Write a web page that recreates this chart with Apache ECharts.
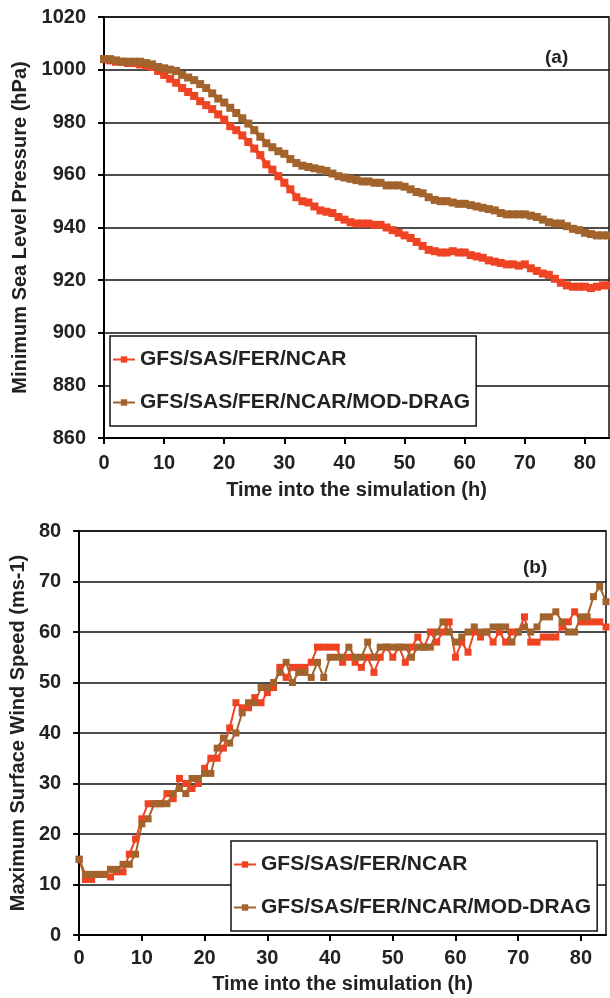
<!DOCTYPE html>
<html>
<head>
<meta charset="utf-8">
<style>
  html, body { margin: 0; padding: 0; background: #fff; }
  #main { width: 610px; height: 998px; }
</style>
<script src="https://cdn.jsdelivr.net/npm/echarts@6/dist/echarts.min.js"></script>
</head>
<body>
<div id="main"></div>
<script>
// hours into the simulation (one value per hour)
var hours = [];
for (var k = 0; k <= 84; k++) { hours.push(k); }

var seriesNames = ['GFS/SAS/FER/NCAR', 'GFS/SAS/FER/NCAR/MOD-DRAG'];

// (a) minimum sea level pressure, hPa
var mslpCtl = [1004, 1003.5, 1003, 1003, 1002.5, 1002.5, 1002, 1001.5, 1001, 999.5,
  998, 996.5, 995, 993, 991.5, 990, 988, 986.5, 985, 983,
  981, 978.5, 977, 975, 972.5, 970, 967.5, 964, 962, 959.5,
  957, 954.5, 951.5, 950, 949.5, 948, 946.5, 946, 945.5, 944,
  943, 942, 941.5, 941.5, 941.5, 941, 941, 940, 939, 938,
  937, 936, 934.5, 933, 931.5, 931, 930.5, 930.5, 931, 930.5,
  930.5, 929.5, 929, 928.5, 927.5, 927, 926.5, 926, 926, 925.5,
  926, 924.5, 923.5, 922.5, 922, 920.5, 919, 918, 917.5, 917.5,
  917.5, 917, 917.5, 918, 918];
var mslpDrag = [1004, 1004, 1003.5, 1003, 1003, 1003, 1003, 1002.5, 1002, 1001,
  1000.5, 1000, 999.5, 998, 997, 996, 994.5, 993, 991, 989,
  987.5, 985.5, 983.5, 981.5, 979.5, 977, 974.5, 972, 970.5, 969,
  968, 966, 964.5, 963.5, 963, 962.5, 962, 961.5, 960.5, 959.5,
  959, 958.5, 958, 957.5, 957.5, 957, 957, 956, 956, 956,
  955.5, 954.5, 953.5, 953, 951.5, 950.5, 950, 950, 949.5, 949,
  949, 948.5, 948, 947.5, 947, 946.5, 945.5, 945, 945, 945,
  945, 944.5, 944, 943, 942, 941.5, 941.5, 940.5, 939.5, 939,
  938, 937.5, 937, 937, 937];

// (b) maximum surface wind speed, m/s
var windCtl = [15, 11, 11, 12, 12, 11.5, 12.5, 12.5, 16, 19,
  23, 26, 26, 26, 28, 27, 31, 30, 29, 30,
  33, 35, 35, 37, 41, 46, 45, 45, 47, 46,
  48, 49, 53, 51, 53, 53, 53, 54, 57, 57,
  57, 57, 54, 55, 54, 53, 55, 52, 55, 57,
  55, 57, 54, 57, 59, 57, 60, 58, 60, 62,
  55, 58, 56, 60, 59, 60, 58, 60, 58, 60,
  60, 63, 58, 58, 59, 59, 59, 61, 62, 64,
  62, 62, 62, 62, 61];
var windDrag = [15, 12, 12, 12, 12, 13, 13, 14, 14, 16,
  22, 23, 26, 26, 26, 28, 29, 28, 31, 31,
  32, 32, 37, 39, 38, 40, 44, 46, 46, 49,
  49, 50, 52, 54, 50, 52, 52, 51, 54, 51,
  55, 55, 55, 57, 55, 55, 58, 55, 57, 57,
  57, 57, 57, 55, 57, 57, 57, 60, 62, 60,
  58, 59, 60, 61, 60, 60, 61, 61, 61, 58,
  60, 61, 60, 61, 63, 63, 64, 62, 60, 60,
  63, 63, 67, 69, 66];

var colors = ['#ee4423', '#a3632c'];
var txt = '#222';
var font = 'Liberation Sans, Arial, sans-serif';

function pairs(ys) {
  var out = [];
  for (var i = 0; i < ys.length; i++) { out.push([hours[i], ys[i]]); }
  return out;
}

// plain numbers, no thousands separator
function plain(v) { return String(v); }

// common axis look
function xAx(gridIndex, margin, nameGap) {
  return {
    type: 'value', gridIndex: gridIndex, min: 0, max: 84, interval: 10,
    name: 'Time into the simulation (h)', nameLocation: 'middle', nameGap: nameGap,
    nameTextStyle: { color: txt, fontSize: 20, fontWeight: 'bold', fontFamily: font },
    axisLine: { show: true, onZero: false, lineStyle: { color: '#000', width: 2 } },
    axisTick: { show: true, length: 6, lineStyle: { color: '#000', width: 2 } },
    axisLabel: { color: txt, fontSize: 20, fontWeight: 'bold', fontFamily: font, margin: margin, showMaxLabel: false, formatter: plain },
    splitLine: { show: false }
  };
}
function yAx(gridIndex, min, max, interval, name, nameGap) {
  return {
    type: 'value', gridIndex: gridIndex, min: min, max: max, interval: interval,
    name: name, nameLocation: 'middle', nameGap: nameGap,
    nameTextStyle: { color: txt, fontSize: 20, fontWeight: 'bold', fontFamily: font },
    axisLine: { show: true, lineStyle: { color: '#000', width: 2 } },
    axisTick: { show: true, length: 6, lineStyle: { color: '#000', width: 2 } },
    axisLabel: { color: txt, fontSize: 20, fontWeight: 'bold', fontFamily: font, margin: 18, formatter: plain },
    splitLine: { show: true, lineStyle: { color: '#111', width: 1.5 } }
  };
}
function lineSeries(idx, xi, ys, lw, size) {
  return {
    name: seriesNames[idx], type: 'line', xAxisIndex: xi, yAxisIndex: xi,
    data: pairs(ys), symbol: 'rect', symbolSize: size, showSymbol: true,
    color: colors[idx],
    lineStyle: { color: colors[idx], width: lw },
    itemStyle: { color: colors[idx] },
    animation: false
  };
}
function legendBox(left, top) {
  return {
    orient: 'vertical', left: left, top: top,
    data: seriesNames,
    itemWidth: 22, itemHeight: 8, itemGap: 22,
    padding: [13, 6, 13, 2],
    borderColor: '#111', borderWidth: 1.5, backgroundColor: '#fff',
    textStyle: { color: txt, fontSize: 21, fontWeight: 'bold', fontFamily: font }
  };
}

var chart = echarts.init(document.getElementById('main'));
chart.setOption({
  backgroundColor: '#fff',
  grid: [
    { left: 104, top: 17, width: 505, height: 421, show: true, borderColor: '#111', borderWidth: 1.5, backgroundColor: 'transparent' },
    { left: 76, top: 531, width: 530, height: 404, show: true, borderColor: '#111', borderWidth: 1.5, backgroundColor: 'transparent' }
  ],
  xAxis: [xAx(0, 15, 42), xAx(1, 13, 39)],
  yAxis: [
    yAx(0, 860, 1020, 20, 'Minimum Sea Level Pressure (hPa)', 63),
    yAx(1, 0, 80, 10, 'Maximum Surface Wind Speed (ms-1)', 48)
  ],
  legend: [legendBox(110, 336), legendBox(231, 841)],
  graphic: [
    { type: 'text', left: 545, top: 48, style: { text: '(a)', fill: txt, font: 'bold 19px ' + font } },
    { type: 'text', left: 523, top: 558, style: { text: '(b)', fill: txt, font: 'bold 19px ' + font } }
  ],
  series: [
    lineSeries(0, 0, mslpCtl, 4, 8),
    lineSeries(1, 0, mslpDrag, 4, 8),
    lineSeries(0, 1, windCtl, 2, 7),
    lineSeries(1, 1, windDrag, 2, 7)
  ]
});
</script>
</body>
</html>
